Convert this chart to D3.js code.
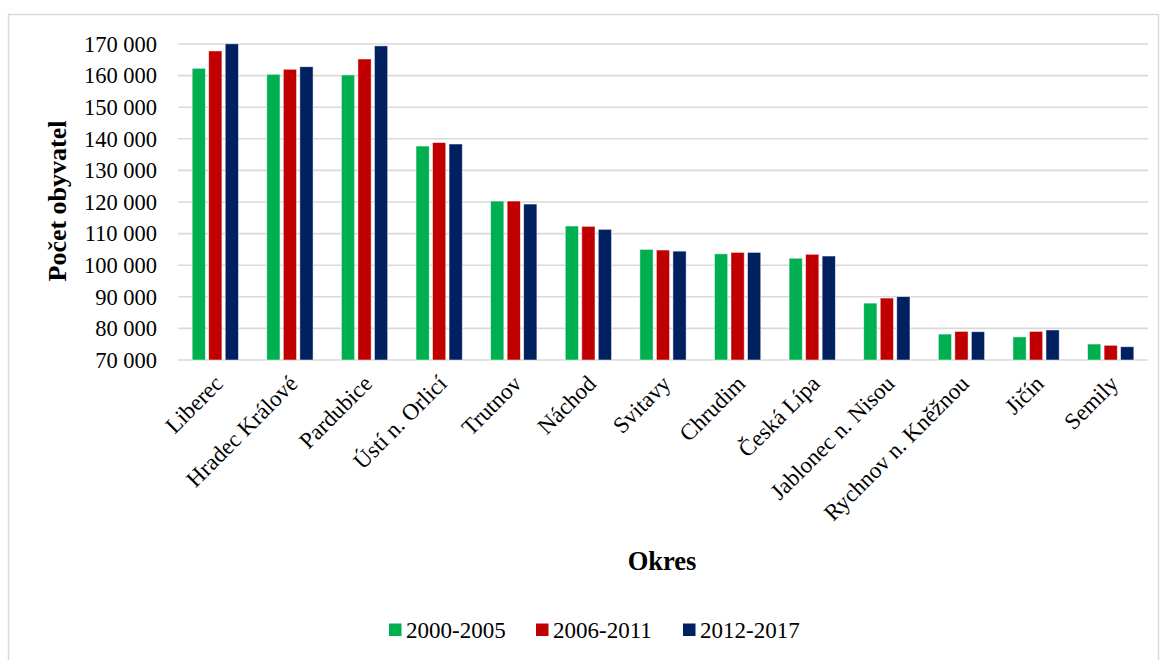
<!DOCTYPE html>
<html>
<head>
<meta charset="utf-8">
<script src="https://cdn.jsdelivr.net/npm/d3@7"></script>
<style>
  html, body { margin: 0; padding: 0; background: #fff; }
  svg { display: block; }
  text { font-family: "Liberation Serif", "Times New Roman", serif; fill: #000; }
</style>
</head>
<body>
<svg id="chart" width="1164" height="660"></svg>
<script>
// Okresy (districts)
const districts = ["Liberec", "Hradec Králové", "Pardubice", "Ústí n. Orlicí", "Trutnov", "Náchod",
  "Svitavy", "Chrudim", "Česká Lípa", "Jablonec n. Nisou", "Rychnov n. Kněžnou", "Jičín", "Semily"];

// Series: average population per period
const periods = ["2000-2005", "2006-2011", "2012-2017"];
const pop2000_2005 = [162300, 160400, 160200, 137700, 120300, 112400, 105000, 103600, 102200, 88000, 78200, 77300, 75050];
const pop2006_2011 = [167800, 162000, 165250, 138800, 120300, 112300, 104800, 104050, 103450, 89600, 79050, 79050, 74650];
const pop2012_2017 = [170050, 162800, 169400, 138350, 119350, 111350, 104450, 104050, 102900, 90050, 78950, 79500, 74200];

const yTicks = [70000, 80000, 90000, 100000, 110000, 120000, 130000, 140000, 150000, 160000, 170000];
const colors = ["#00B050", "#C00000", "#002060"];

const series = [pop2000_2005, pop2006_2011, pop2012_2017];

const svg = d3.select("#chart");

// outer frame
svg.append("rect")
  .attr("x", 8.5).attr("y", 14.5)
  .attr("width", 1150).attr("height", 660)
  .attr("fill", "none").attr("stroke", "#d9d9d9").attr("stroke-width", 1.5);

const plot = { left: 178, right: 1148, top: 44, bottom: 360 };

const x0 = d3.scaleBand().domain(districts).range([plot.left, plot.right]).paddingInner(0.38).paddingOuter(0.19);
const x1 = d3.scaleBand().domain(periods).range([0, x0.bandwidth()]).paddingInner(0.2);
const y = d3.scaleLinear().domain([70000, 170000]).range([plot.bottom, plot.top]);

// gridlines
svg.append("g")
  .selectAll("line")
  .data(yTicks)
  .join("line")
  .attr("x1", plot.left).attr("x2", plot.right)
  .attr("y1", d => y(d)).attr("y2", d => y(d))
  .attr("stroke", "#d9d9d9").attr("stroke-width", 1.6);

// y tick labels
const fmt = v => d3.format(",")(v).replace(/,/g, " ");
svg.append("g")
  .selectAll("text")
  .data(yTicks)
  .join("text")
  .attr("x", 157)
  .attr("y", d => y(d))
  .attr("dy", "0.35em")
  .attr("text-anchor", "end")
  .attr("font-size", 22.5)
  .text(fmt);

// bars
const groups = svg.append("g")
  .selectAll("g")
  .data(districts)
  .join("g")
  .attr("transform", d => `translate(${x0(d)},0)`);

groups.selectAll("rect")
  .data((d, i) => periods.map((p, k) => ({ p, k, v: series[k][i] })))
  .join("rect")
  .attr("x", d => x1(d.p))
  .attr("width", x1.bandwidth())
  .attr("y", d => y(d.v))
  .attr("height", d => plot.bottom - y(d.v))
  .attr("fill", d => colors[d.k])
  .attr("stroke", "#ffffff")
  .attr("stroke-opacity", 0.6)
  .attr("stroke-width", 0.8);

// x category labels, rotated
svg.append("g")
  .selectAll("text")
  .data(districts)
  .join("text")
  .attr("transform", d => `translate(${x0(d) + x0.bandwidth() / 2 + 9},${plot.bottom + 25}) rotate(-45)`)
  .attr("text-anchor", "end")
  .attr("font-size", 23)
  .text(d => d);

// axis titles
svg.append("text")
  .attr("transform", "translate(66,201) rotate(-90)")
  .attr("text-anchor", "middle")
  .attr("font-size", 26)
  .attr("font-weight", "bold")
  .text("Počet obyvatel");

svg.append("text")
  .attr("x", 662).attr("y", 570)
  .attr("text-anchor", "middle")
  .attr("font-size", 26.5)
  .attr("font-weight", "bold")
  .text("Okres");

// legend
const legendX = [389, 536, 683];
const legend = svg.append("g")
  .selectAll("g")
  .data(periods)
  .join("g")
  .attr("transform", (d, i) => `translate(${legendX[i]},630)`);
legend.append("rect")
  .attr("x", 0).attr("y", -6.5).attr("width", 12.5).attr("height", 12.5)
  .attr("fill", (d, i) => colors[i]);
legend.append("text")
  .attr("x", 17).attr("y", 0).attr("dy", "0.35em")
  .attr("font-size", 23)
  .text(d => d);
</script>
</body>
</html>
